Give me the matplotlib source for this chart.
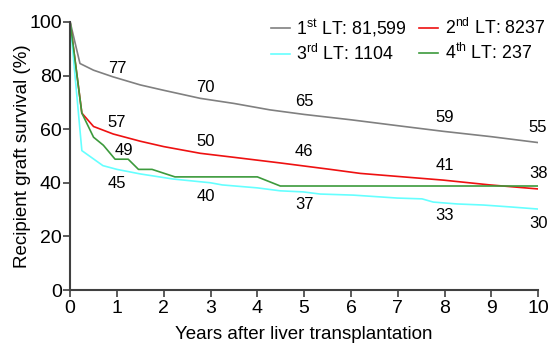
import matplotlib.pyplot as plt

plt.rcParams['font.family'] = ['Liberation Sans', 'DejaVu Sans']
plt.rcParams['mathtext.fontset'] = 'custom'
plt.rcParams['mathtext.rm'] = 'Liberation Sans'
plt.rcParams['mathtext.default'] = 'regular'

# Survival curves (years, %)
x1 = [0, 0.21, 0.5, 0.92, 1.5, 2, 2.78, 3.5, 4.27, 5, 6, 7, 7.97, 9, 10]
y1 = [100, 84.5, 82, 79.5, 76.5, 74.5, 71.5, 69.6, 67.2, 65.5, 63.5, 61.3, 59.2, 57.2, 55]

x2 = [0, 0.25, 0.5, 0.92, 1.5, 2, 2.78, 3.5, 4.49, 5.56, 6.2, 7.97, 8.97, 10]
y2 = [100, 66, 61, 58.2, 55.5, 53.5, 51, 49.5, 47.4, 45, 43.5, 41, 39.2, 37.7]

x3 = [0, 0.25, 0.7, 1.0, 1.5, 2.2, 3.0, 3.25, 4.0, 4.49, 4.98, 5.34, 6.05, 6.99, 7.52,
      7.76, 8.27, 8.83, 9.4, 10]
y3 = [100, 52, 46.4, 45, 43.3, 41.4, 40, 39.2, 38.1, 37, 36.6, 35.8, 35.4, 34.3, 34,
      32.8, 32.1, 31.7, 31, 30.2]

x4 = [0, 0.25, 0.5, 0.71, 0.96, 1.24, 1.46, 1.75, 2.24, 4.0, 4.49, 10]
y4 = [100, 66, 57, 54, 48.8, 48.8, 45, 45, 42.2, 42.2, 38.8, 38.8]

labels = [r'1$^{st}$ LT: 81,599', r'2$^{nd}$ LT: 8237',
          r'3$^{rd}$ LT: 1104', r'4$^{th}$ LT: 237']
colors = ['#808080', '#ee1111', '#66ffff', '#3c9a3c']

# Annotated survival values
ann_x = [1, 2.9, 5, 8, 10]
ann1 = [77, 70, 65, 59, 55]
ann2 = [57, 50, 46, 41, 38]
ann3 = [45, 40, 37, 33, 30]

fig = plt.figure(figsize=(5.48, 3.43), dpi=100)
ax = fig.add_axes([0.128, 0.1545, 0.854, 0.7815])

l1, = ax.plot(x1, y1, color=colors[0], lw=1.2)
l2, = ax.plot(x2, y2, color=colors[1], lw=1.2)
l3, = ax.plot(x3, y3, color=colors[2], lw=1.2)
l4, = ax.plot(x4, y4, color=colors[3], lw=1.2)

for xx, v in zip(ann_x, ann1):
    ax.text(xx, v + 5.5, str(v), ha='center', va='center', fontsize=12, clip_on=False)
for xx, v in zip(ann_x, ann2):
    ax.text(xx, v + 5.5, str(v), ha='center', va='center', fontsize=12, clip_on=False)
for xx, v in zip(ann_x, ann3):
    ax.text(xx, v - 5.2, str(v), ha='center', va='center', fontsize=12, clip_on=False)
ax.text(1.14, 52.2, '49', ha='center', va='center', fontsize=12)

ax.set_xlim(0, 10)
ax.set_ylim(0, 100)
ax.set_xticks(range(0, 11))
ax.set_yticks(range(0, 101, 20))
ax.tick_params(labelsize=14, length=5, width=1.2, color='#404040', pad=2.5)
ax.tick_params(axis='y', pad=1)
for s in ['top', 'right']:
    ax.spines[s].set_visible(False)
for s in ['left', 'bottom']:
    ax.spines[s].set_color('#404040')
    ax.spines[s].set_linewidth(1.5)

ax.set_xlabel('Years after liver transplantation', fontsize=13.5, labelpad=6)
ax.set_ylabel('Recipient graft survival (%)', fontsize=13.5, labelpad=-1)

ax.legend([l1, l3, l2, l4], [labels[0], labels[2], labels[1], labels[3]],
          ncol=2, loc='upper right', bbox_to_anchor=(1.03, 1.045), frameon=False,
          fontsize=12.8, handlelength=1.1, handletextpad=0.35, columnspacing=0.65,
          labelspacing=0.3, borderaxespad=0)

fig.savefig('out.png', dpi=100)
